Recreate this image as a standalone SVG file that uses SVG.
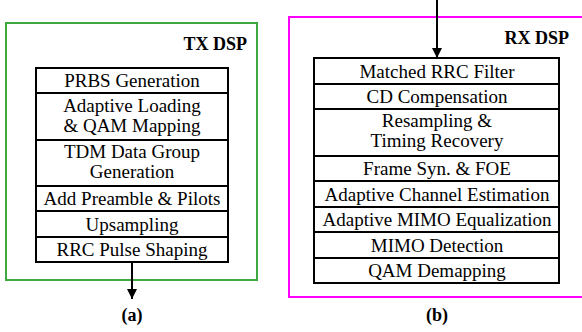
<svg xmlns="http://www.w3.org/2000/svg" width="582" height="332" viewBox="0 0 582 332">
<defs>
<style>
.blk{fill:#fff;stroke:#000;stroke-width:2}
.t{font-family:"Liberation Serif","Times New Roman",serif;font-size:19px;fill:#000;text-anchor:middle}
.b{font-family:"Liberation Serif","Times New Roman",serif;font-size:18px;font-weight:bold;fill:#000}
.con{stroke:#000;stroke-width:2;fill:none}
</style>
<marker id="ah" viewBox="0 0 10 10" refX="10" refY="5" markerWidth="5" markerHeight="5" markerUnits="strokeWidth" orient="auto">
<path d="M0,0L10,5L0,10z" fill="#000"/>
</marker>
</defs>
<rect width="582" height="332" fill="#fff"/>
<g id="tx-dsp">
<rect x="6" y="23" width="251" height="257" fill="none" stroke="#3fa83f" stroke-width="2"/>
<text class="b" x="247" y="50" text-anchor="end">TX DSP</text>
</g>
<g id="rx-dsp">
<rect x="289" y="17" width="300" height="280" fill="none" stroke="#f0f" stroke-width="2"/>
<text class="b" x="569" y="44" text-anchor="end">RX DSP</text>
</g>
<g id="tx1"><rect class="blk" x="36" y="68" width="192" height="25"/><text class="t" x="132" y="87">PRBS Generation</text></g>
<g id="tx2"><rect class="blk" x="36" y="93" width="192" height="47"/><text class="t" x="132" y="111.5">Adaptive Loading</text><text class="t" x="132" y="131.5">&amp; QAM Mapping</text></g>
<g id="tx3"><rect class="blk" x="36" y="140" width="192" height="46"/><text class="t" x="132" y="158">TDM Data Group</text><text class="t" x="132" y="178">Generation</text></g>
<g id="tx4"><rect class="blk" x="36" y="186" width="192" height="25"/><text class="t" x="132" y="205">Add Preamble &amp; Pilots</text></g>
<g id="tx5"><rect class="blk" x="36" y="211" width="192" height="26"/><text class="t" x="132" y="230.5">Upsampling</text></g>
<g id="tx6"><rect class="blk" x="36" y="237" width="192" height="25"/><text class="t" x="132" y="256">RRC Pulse Shaping</text></g>
<g id="rx1"><rect class="blk" x="314" y="58" width="245" height="26"/><text class="t" x="437" y="77.5">Matched RRC Filter</text></g>
<g id="rx2"><rect class="blk" x="314" y="84" width="245" height="25"/><text class="t" x="437" y="103">CD Compensation</text></g>
<g id="rx3"><rect class="blk" x="314" y="109" width="245" height="47"/><text class="t" x="437" y="126.5">Resampling &amp;</text><text class="t" x="437" y="147">Timing Recovery</text></g>
<g id="rx4"><rect class="blk" x="314" y="156" width="245" height="25"/><text class="t" x="437" y="175">Frame Syn. &amp; FOE</text></g>
<g id="rx5"><rect class="blk" x="314" y="181" width="245" height="26"/><text class="t" x="437" y="200.5">Adaptive Channel Estimation</text></g>
<g id="rx6"><rect class="blk" x="314" y="207" width="245" height="25"/><text class="t" x="437" y="226">Adaptive MIMO Equalization</text></g>
<g id="rx7"><rect class="blk" x="314" y="232" width="245" height="26"/><text class="t" x="437" y="251.5">MIMO Detection</text></g>
<g id="rx8"><rect class="blk" x="314" y="258" width="245" height="25"/><text class="t" x="437" y="277">QAM Demapping</text></g>
<g id="connectors">
<line class="con" x1="132" y1="263" x2="132" y2="299" marker-end="url(#ah)"/>
<line class="con" x1="437" y1="0" x2="437" y2="58" marker-end="url(#ah)"/>
</g>
<g id="captions">
<text class="b" x="132" y="321" text-anchor="middle">(a)</text>
<text class="b" x="437" y="321" text-anchor="middle">(b)</text>
</g>
</svg>
